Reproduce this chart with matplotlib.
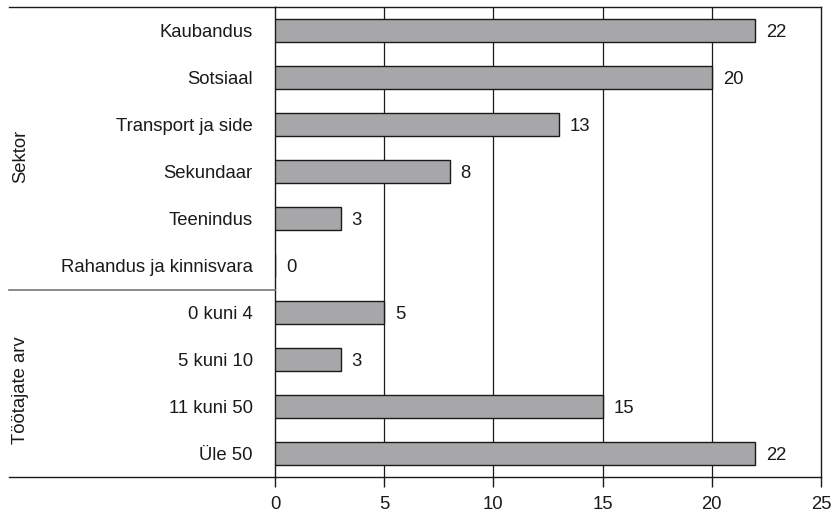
import matplotlib
matplotlib.use('Agg')
import matplotlib.pyplot as plt
from matplotlib.lines import Line2D

plt.rcParams['font.family'] = ['Liberation Sans', 'DejaVu Sans']

# andmed
sektor_kategooriad = ['Kaubandus', 'Sotsiaal', 'Transport ja side', 'Sekundaar',
                      'Teenindus', 'Rahandus ja kinnisvara']
sektor_vaartused = [22, 20, 13, 8, 3, 0]
tootajad_kategooriad = ['0 kuni 4', '5 kuni 10', '11 kuni 50', 'Üle 50']
tootajad_vaartused = [5, 3, 15, 22]
grupid = ['Sektor', 'Töötajate arv']
x_tickid = [0, 5, 10, 15, 20, 25]

kategooriad = sektor_kategooriad + tootajad_kategooriad
vaartused = sektor_vaartused + tootajad_vaartused
y = list(range(len(kategooriad)))

fig = plt.figure(figsize=(8.34, 5.17), dpi=100)
ax = fig.add_axes([275 / 834, 1 - 477 / 517, (821 - 275) / 834, (477 - 7) / 517])

ax.barh(y, vaartused, height=0.5, color='#a7a7a9', edgecolor='#1a1a1a', linewidth=1.0, zorder=3)
for yi, v in zip(y, vaartused):
    ax.text(v + 0.5, yi, str(v), va='center_baseline', ha='left', fontsize=13.3, color='#1a1a1a')

ax.set_xlim(0, 25)
ax.set_ylim(len(kategooriad) - 0.5, -0.5)
ax.set_xticks(x_tickid)
ax.set_xticklabels([str(t) for t in x_tickid], fontsize=13.3, color='#1a1a1a')
ax.set_yticks(y)
ax.set_yticklabels(kategooriad, fontsize=13.3, color='#1a1a1a', va='center_baseline')
ax.tick_params(axis='y', length=0, pad=16)
ax.tick_params(axis='x', length=7, width=1, direction='out', pad=7, color='#1a1a1a')

for t in x_tickid[1:-1]:
    ax.axvline(t, color='#1a1a1a', linewidth=0.9, zorder=1)

for s in ['left', 'right', 'top', 'bottom']:
    ax.spines[s].set_color('#1a1a1a')
    ax.spines[s].set_linewidth(1.0)

# raami jooned vasakule
x0 = 9 / 834
xa = 275 / 834
fig.add_artist(Line2D([x0, xa], [1 - 7 / 517] * 2, color='#1a1a1a', linewidth=1.0))
fig.add_artist(Line2D([x0, xa], [1 - 477 / 517] * 2, color='#1a1a1a', linewidth=1.0))
fig.add_artist(Line2D([x0, xa], [1 - 290 / 517] * 2, color='#777777', linewidth=1.2))

# grupi sildid
fig.text(21 / 834, 1 - 156 / 517, grupid[0], rotation=90, va='center', ha='center', fontsize=13.3, color='#1a1a1a')
fig.text(21 / 834, 1 - 390 / 517, grupid[1], rotation=90, va='center', ha='center', fontsize=13.3, color='#1a1a1a')

fig.savefig('out.png', dpi=100)
